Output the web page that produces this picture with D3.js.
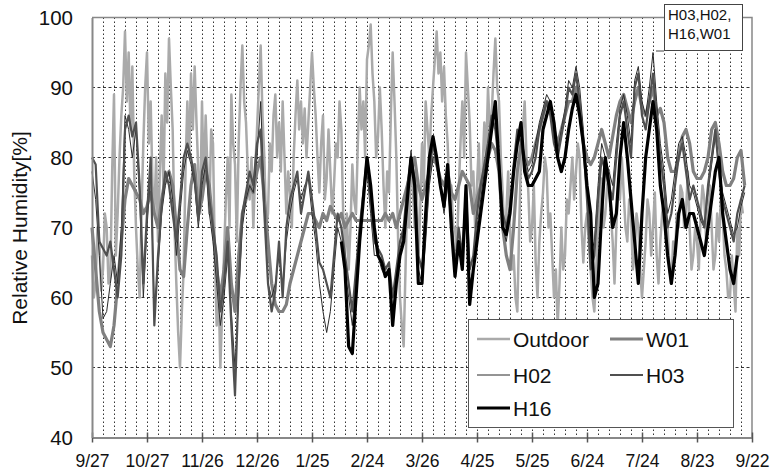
<!DOCTYPE html>
<html><head><meta charset="utf-8">
<script src="https://cdn.jsdelivr.net/npm/d3@7"></script>
<style>body{margin:0;background:#fff}</style>
</head><body><svg id="c" width="773" height="470"></svg>
<script>
// ---- data ----
const outdoorStep = 1;   // outdoor: one value per day from 9/27
const indoorStep = 2;    // indoor: one value every 2 days from 9/27
const xTickDays = [0,30,60,90,120,150,180,210,240,270,300,330,360];
const xTickLabels = ["9/27","10/27","11/26","12/26","1/25","2/24","3/26","4/25","5/25","6/24","7/24","8/23","9/22"];
const yTicks = [40,50,60,70,80,90,100];
const seriesNames = ["Outdoor","W01","H02","H03","H16"];

const outdoor = [
 66,60,62,70,68,61,64,72,70,62,63,78,89,66,72,80,86,90,98,88,95,84,93,78,70,64,60,72,82,90,
 95,82,88,76,72,80,68,78,86,75,92,85,97,90,84,70,62,55,50,58,64,78,88,80,92,84,93,85,78,72,
 88,76,86,78,72,84,82,66,56,62,50,58,66,74,80,70,89,82,79,68,82,90,96,88,85,78,74,80,70,78,
 84,90,96,86,80,70,72,82,78,86,89,80,85,78,88,80,72,78,75,70,80,86,91,84,88,82,87,80,85,90,
 95,90,86,80,75,82,86,74,77,84,78,72,76,82,80,88,84,72,66,72,64,70,79,74,72,82,90,84,88,80,
 94,96,99,92,88,80,83,90,84,76,70,78,75,86,95,88,80,68,60,56,53,64,75,70,80,76,70,78,65,72,
 82,76,88,84,80,86,90,94,98,92,95,88,93,86,82,74,76,70,70,66,75,82,88,80,95,90,85,76,78,70,
 76,82,72,78,85,80,90,84,86,92,97,90,88,80,75,68,72,78,70,64,66,60,58,70,80,84,88,80,75,68,
 70,76,65,60,68,72,75,80,78,70,72,66,60,64,56,62,70,64,66,74,72,76,80,74,78,82,80,70,65,70,
 72,68,64,60,58,64,70,74,77,70,72,76,78,72,68,62,70,76,74,80,75,70,68,74,72,64,66,72,70,64,
 60,64,68,74,72,66,70,75,66,62,68,72,74,68,70,64,62,68,66,72,70,76,75,70,72,78,70,64,66,70,
 68,64,72,76,74,68,72,76,70,64,66,72,68,74,72,66,64,60,60,66,62,58,70,66,74,72];
const w01 = [
 70,64,58,55,54,53,56,62,68,74,77,76,75,74,72,
 73,75,72,70,74,77,78,76,70,64,63,70,76,79,72,
 74,78,76,70,64,60,64,70,62,58,66,72,74,76,75,
 78,80,74,68,62,59,58,58,59,62,64,66,68,70,72,
 72,71,70,72,71,73,72,71,72,70,71,72,71,71,71,
 71,71,71,71,71,72,71,72,70,72,74,76,78,80,76,
 74,76,78,80,79,77,76,78,75,74,76,78,77,76,72,
 74,76,78,80,82,81,78,70,66,64,70,78,82,80,79,
 80,82,84,86,88,87,84,82,84,86,88,88,90,87,82,
 80,79,80,82,84,82,80,83,86,88,89,87,85,88,90,
 87,86,88,90,86,87,85,80,78,78,80,83,84,82,78,
 77,77,78,80,84,85,82,78,76,76,77,80,81,76];
const h02 = [
 78,74,66,57,58,62,66,62,70,86,84,80,84,74,60,
 70,78,58,64,72,76,78,74,66,72,78,81,79,76,70,
 76,79,72,68,62,56,60,66,58,50,60,70,74,76,75,
 80,88,74,62,60,62,66,61,68,72,75,77,74,76,77,
 72,68,62,58,55,58,64,70,68,64,60,56,62,68,74,
 78,72,66,66,64,63,64,58,62,66,70,75,81,76,64,
 62,68,76,80,80,76,72,76,70,63,68,65,74,62,64,
 70,74,78,81,85,86,80,70,68,72,78,83,83,80,78,
 79,82,85,87,89,88,84,81,84,87,91,90,93,90,84,
 76,66,68,76,82,80,78,76,82,87,89,86,82,91,93,
 88,86,90,95,88,82,78,72,74,78,82,83,80,76,75,
 73,71,70,75,79,83,79,75,73,71,69,70,73,75];
const h03 = [
 80,79,68,67,66,68,64,60,66,84,86,83,85,76,62,
 72,80,56,66,73,78,76,72,68,74,80,82,80,77,71,
 78,80,74,70,66,58,62,68,56,46,62,72,75,78,76,
 82,84,72,62,58,61,68,60,70,74,76,78,72,75,78,
 74,70,65,64,62,60,66,72,70,66,62,58,64,70,75,
 80,74,68,67,66,64,65,60,64,68,70,76,80,77,66,
 64,70,78,82,79,76,73,78,72,64,70,66,75,64,66,
 72,76,79,82,86,84,79,72,70,73,79,84,82,79,77,
 78,80,84,86,88,86,82,80,83,86,90,89,92,88,82,
 74,64,66,74,80,78,76,74,80,86,88,84,80,90,92,
 86,84,88,92,86,80,76,70,72,76,80,82,78,74,76,
 74,72,70,76,80,84,78,74,72,70,68,72,74,76];
const h16StartDay = 136;
const h16 = [
 68,64,53,52,60,68,74,
 80,76,70,66,65,63,64,56,62,66,68,74,80,76,62,
 62,72,80,83,80,76,73,79,70,63,68,64,76,59,64,
 68,72,76,80,84,88,79,70,69,72,78,82,85,78,76,
 76,77,78,84,86,88,85,80,78,80,84,87,89,86,82,
 76,72,60,62,72,80,76,70,72,80,85,80,74,68,62,
 72,80,84,88,84,76,72,66,62,66,72,74,70,72,72,
 70,68,66,70,74,78,80,72,68,64,62,66];

// ---- drawing ----
const svg = d3.select("#c");
svg.append("rect").attr("width",773).attr("height",470).attr("fill","#fff");
const L=92, R=752, T=17.5, B=437.5;
const x = d3.scaleLinear().domain([0,360]).range([L,R]);
const y = d3.scaleLinear().domain([40,100]).range([B,T]);
const FONT = "'Liberation Sans', Arial, sans-serif";

// grid
const g = svg.append("g");
g.selectAll("line.v").data(d3.range(6,360,6)).join("line")
 .attr("x1",d=>Math.round(x(d))+0.5).attr("x2",d=>Math.round(x(d))+0.5)
 .attr("y1",T).attr("y2",B)
 .attr("stroke","#333").attr("stroke-width",1).attr("stroke-dasharray","1.5,2.5");
g.selectAll("line.h").data(yTicks.slice(1,-1)).join("line")
 .attr("x1",L).attr("x2",R).attr("y1",d=>y(d)).attr("y2",d=>y(d))
 .attr("stroke","#333").attr("stroke-width",1).attr("stroke-dasharray","3,2.5");

svg.append("path").attr("d",`M${L},${T}H${R}V${B}`).attr("fill","none")
 .attr("stroke","#888").attr("stroke-width",1.5);

// series
const mk = (arr,start,step)=>arr.map((v,i)=>({d:start+i*step,v}));
const line = d3.line().x(p=>x(p.d)).y(p=>y(p.v));
const styles = [
 {data:mk(outdoor,0,outdoorStep), c:"#aaaaaa", w:2.5},
 {data:mk(w01,0,indoorStep), c:"#808080", w:3.2},
 {data:mk(h02,0,indoorStep), c:"#2a2a2a", w:1},
 {data:mk(h03,0,indoorStep), c:"#505050", w:2.2},
 {data:mk(h16,h16StartDay,indoorStep), c:"#000", w:3.2}
];
svg.append("g").selectAll("path").data(styles).join("path")
 .attr("d",s=>line(s.data)).attr("fill","none")
 .attr("stroke",s=>s.c).attr("stroke-width",s=>s.w).attr("stroke-linejoin","round");

// axes
const xa = svg.append("g").attr("transform",`translate(0,${B})`)
 .call(d3.axisBottom(x).tickValues(xTickDays).tickFormat((d,i)=>xTickLabels[i])
   .tickSizeInner(5).tickSizeOuter(0).tickPadding(12));
xa.select(".domain").attr("stroke","#888").attr("stroke-width",2);
xa.selectAll(".tick line").attr("y1",-5).attr("y2",5).attr("stroke","#555").attr("stroke-width",1.5);
xa.selectAll(".tick text").attr("font-family",FONT).attr("font-size",17.5).attr("fill","#111");

const ya = svg.append("g").attr("transform",`translate(${L},0)`)
 .call(d3.axisLeft(y).tickValues(yTicks).tickSizeInner(0).tickSizeOuter(0).tickPadding(19));
ya.select(".domain").attr("stroke","#888").attr("stroke-width",2);
ya.selectAll(".tick text").attr("font-family",FONT).attr("font-size",20.5).attr("fill","#111");

svg.append("text").attr("transform","translate(27,228) rotate(-90)")
 .attr("text-anchor","middle").attr("font-family",FONT).attr("font-size",21).attr("fill","#111")
 .text("Relative Humidity[%]");

// legend
const lg = svg.append("g");
lg.append("rect").attr("x",468.5).attr("y",319.5).attr("width",265).attr("height",108)
 .attr("fill","#fff").attr("stroke","#555").attr("stroke-width",1);
const legPos = [[477,339],[610,339],[477,375],[610,375],[477,408]];
styles.forEach((s,i)=>{
 const [lx,ly]=legPos[i];
 lg.append("line").attr("x1",lx).attr("x2",lx+33).attr("y1",ly).attr("y2",ly)
  .attr("stroke",s.c).attr("stroke-width",s.w);
 lg.append("text").attr("x",lx+36).attr("y",ly+7.5).attr("font-family",FONT)
  .attr("font-size",21).attr("fill","#111").text(seriesNames[i]);
});

// annotation
const an = svg.append("g");
an.append("line").attr("x1",656).attr("y1",51).attr("x2",664).attr("y2",51).attr("stroke","#444");
an.append("rect").attr("x",664.5).attr("y",4.5).attr("width",78).attr("height",46)
 .attr("fill","#fff").attr("stroke","#444").attr("stroke-width",1);
an.append("text").attr("x",668).attr("y",20).attr("font-family",FONT).attr("font-size",15).attr("fill","#111").text("H03,H02,");
an.append("text").attr("x",668).attr("y",39).attr("font-family",FONT).attr("font-size",15).attr("fill","#111").text("H16,W01");
</script></body></html>
